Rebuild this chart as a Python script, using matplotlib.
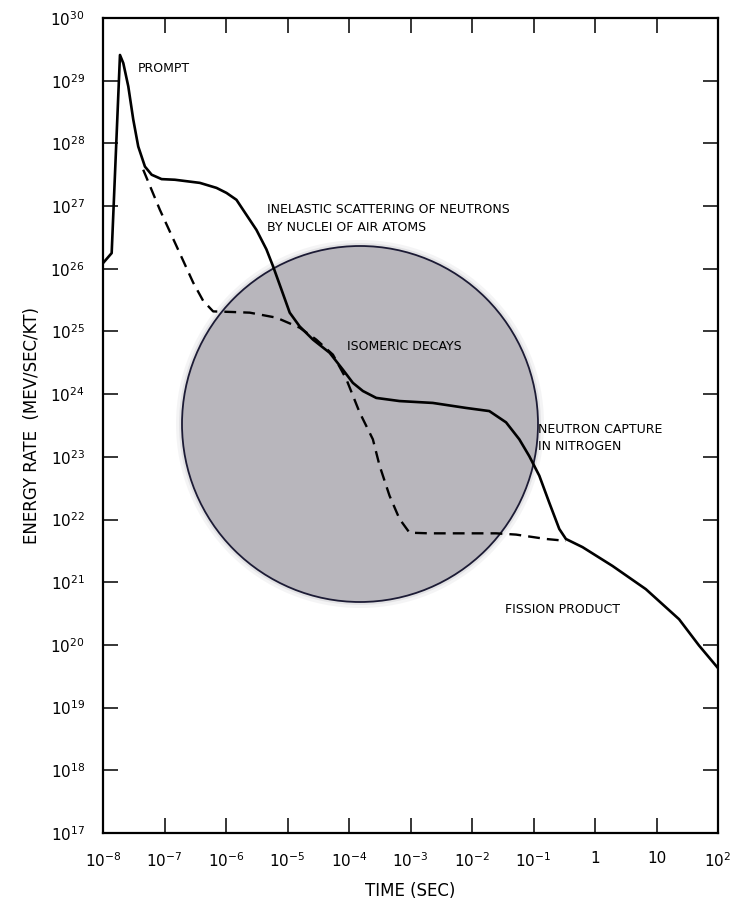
import numpy as np
import matplotlib
matplotlib.use("Agg")
import matplotlib.pyplot as plt
from matplotlib.patches import Ellipse

# ── Data (log10 values) ──────────────────────────────────────────────────────
total_logt = [-8.0, -7.859, -7.724, -7.670, -7.589, -7.508, -7.427, -7.318,
              -7.209, -7.047, -6.831, -6.425, -6.154, -5.992, -5.830, -5.722,
              -5.505, -5.343, -5.235, -5.099, -4.964, -4.802, -4.586, -4.315,
              -4.099, -3.937, -3.774, -3.557, -3.179, -2.638, -2.096, -1.718,
              -1.446, -1.231, -1.068, -0.906, -0.744, -0.581, -0.473, -0.203,
              0.284, 0.826, 1.367, 1.692, 2.0]
total_logE = [26.09, 26.25, 29.41, 29.28, 28.91, 28.38, 27.95, 27.63,
              27.50, 27.43, 27.42, 27.37, 27.29, 27.21, 27.10, 26.94,
              26.62, 26.31, 26.04, 25.67, 25.30, 25.08, 24.87, 24.66,
              24.39, 24.18, 24.05, 23.94, 23.89, 23.86, 23.78, 23.73,
              23.55, 23.28, 23.01, 22.70, 22.27, 21.85, 21.69, 21.56,
              21.26, 20.89, 20.41, 19.99, 19.63]

# dashed branch (without the inelastic / neutron-capture contributions)
branch_logt = [-7.346, -7.075, -6.804, -6.534, -6.372, -6.209, -5.885, -5.614,
               -5.180, -4.802, -4.532, -4.261, -4.044, -3.828, -3.612, -3.503,
               -3.341, -3.179, -3.016, -2.692, -1.609, -1.284, -0.797, -0.473]
branch_logE = [27.58, 26.94, 26.36, 25.78, 25.49, 25.32, 25.31, 25.30,
               25.22, 25.06, 24.87, 24.63, 24.24, 23.71, 23.28, 22.86,
               22.38, 22.01, 21.79, 21.78, 21.78, 21.76, 21.69, 21.66]

x_ticks = [1e-8, 1e-7, 1e-6, 1e-5, 1e-4, 1e-3, 1e-2, 1e-1, 1, 10, 1e2]
x_ticklabels = [r"$10^{-8}$", r"$10^{-7}$", r"$10^{-6}$", r"$10^{-5}$",
                r"$10^{-4}$", r"$10^{-3}$", r"$10^{-2}$", r"$10^{-1}$",
                "1", "10", r"$10^{2}$"]
y_exps = list(range(17, 31))

# labels: (text, log t, log E)
annotations = [
    ("PROMPT", -7.43, 29.19),
    ("INELASTIC SCATTERING OF NEUTRONS\nBY NUCLEI OF AIR ATOMS", -5.34, 26.80),
    ("ISOMERIC DECAYS", -4.04, 24.76),
    ("NEUTRON CAPTURE\nIN NITROGEN", -0.92, 23.30),
    ("FISSION PRODUCT", -1.46, 20.57),
]

# ── Figure ───────────────────────────────────────────────────────────────────
W, H = 735, 899
fig = plt.figure(figsize=(W / 100, H / 100), dpi=100)
ax = fig.add_axes([103 / W, 1 - 833 / H, (718 - 103) / W, (833 - 18) / H])

# grey overlay disc (sits on top of the chart, under the curves)
cx, cy, r = 360, 424, 178
for k, a in [(6, 0.10), (3, 0.18)]:
    fig.patches.append(Ellipse((cx / W, 1 - cy / H), 2 * (r + k) / W, 2 * (r + k) / H,
                               transform=fig.transFigure, facecolor="#9a98a0",
                               edgecolor="none", alpha=a, zorder=0.5))
fig.patches.append(Ellipse((cx / W, 1 - cy / H), 2 * r / W, 2 * r / H,
                           transform=fig.transFigure, facecolor="#b8b6bc",
                           edgecolor="#1c1b35", linewidth=1.3, zorder=0.6))
ax.set_facecolor("none")
ax.set_zorder(1)

ax.plot(10 ** np.array(total_logt), 10 ** np.array(total_logE),
        color="black", linewidth=1.9, solid_joinstyle="round")
ax.plot(10 ** np.array(branch_logt), 10 ** np.array(branch_logE),
        color="black", linewidth=1.7, dashes=(5, 3))

ax.set_xscale("log")
ax.set_yscale("log")
ax.set_xlim(1e-8, 1e2)
ax.set_ylim(1e17, 1e30)

ax.set_xticks(x_ticks)
ax.set_xticklabels(x_ticklabels)
ax.set_yticks([10.0 ** e for e in y_exps])
ax.set_yticklabels([rf"$10^{{{e}}}$" for e in y_exps])
ax.minorticks_off()
ax.tick_params(axis="both", which="major", direction="in", length=11, width=1.1,
               top=True, right=True, labelsize=11, pad=13)

for sp in ax.spines.values():
    sp.set_linewidth(1.6)

ax.set_xlabel("TIME (SEC)", fontsize=12, labelpad=9)
ax.set_ylabel("ENERGY RATE  (MEV/SEC/KT)", fontsize=12, labelpad=7)

for txt, lt, le in annotations:
    ax.text(10 ** lt, 10 ** le, txt, fontsize=9, ha="left", va="center",
            linespacing=1.45)

fig.savefig("out.png", dpi=100)
